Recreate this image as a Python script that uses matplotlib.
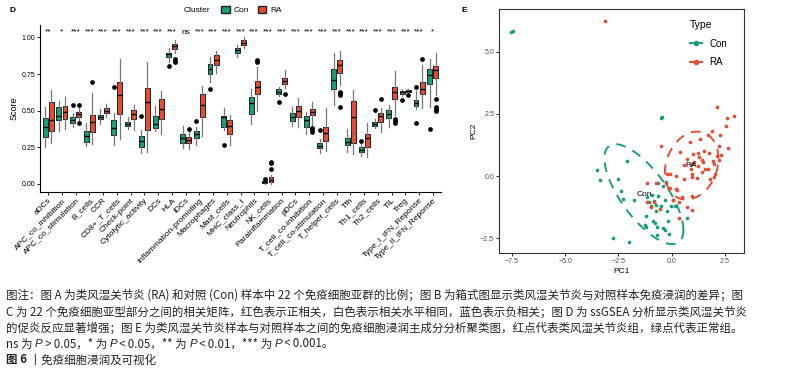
import numpy as np
import matplotlib
matplotlib.use('Agg')
import matplotlib.pyplot as plt
from matplotlib.patches import Patch
from matplotlib.lines import Line2D

plt.rcParams['font.family'] = ['Liberation Sans', 'Noto Sans CJK SC', 'DejaVu Sans']

# ---- данные панели D (ssGSEA) ----
categories = ['aDCs', 'APC_co_inhibition', 'APC_co_stimulation', 'B_cells', 'CCR',
              'CD8+_T_cells', 'Check-point', 'Cytolytic_activity', 'DCs', 'HLA', 'iDCs',
              'Inflammation-promoting', 'Macrophages', 'Mast_cells', 'MHC_class_I',
              'Neutrophils', 'NK_cells', 'Parainflammation', 'pDCs', 'T_cell_co-inhibition',
              'T_cell_co-stimulation', 'T_helper_cells', 'Tfh', 'Th1_cells', 'Th2_cells',
              'TIL', 'Treg', 'Type_I_IFN_Reponse', 'Type_II_IFN_Reponse']
signif = ['**', '*', '***', '***', '***', '***', '***', '***', '***', '***', 'ns',
          '***', '***', '***', '***', '***', '***', '***', '***', '***', '***', '***',
          '***', '***', '***', '***', '***', '***', '*']

# [нижний ус, Q1, медиана, Q3, верхний ус]
con_box = [[0.25, 0.323, 0.391, 0.448, 0.527], [0.364, 0.437, 0.464, 0.523, 0.568],
           [0.391, 0.414, 0.437, 0.455, 0.487], [0.259, 0.289, 0.327, 0.364, 0.414],
           [0.41, 0.441, 0.455, 0.471, 0.514], [0.266, 0.334, 0.38, 0.437, 0.482],
           [0.377, 0.396, 0.41, 0.425, 0.455], [0.214, 0.254, 0.291, 0.327, 0.368],
           [0.36, 0.38, 0.41, 0.464, 0.53], [0.834, 0.864, 0.887, 0.896, 0.925],
           [0.243, 0.282, 0.312, 0.341, 0.396], [0.266, 0.316, 0.341, 0.362, 0.389],
           [0.698, 0.75, 0.782, 0.816, 0.868], [0.368, 0.391, 0.455, 0.462, 0.516],
           [0.868, 0.896, 0.914, 0.93, 0.948], [0.407, 0.478, 0.55, 0.596, 0.646],
           [0.0, 0.006, 0.012, 0.02, 0.028], [0.6, 0.614, 0.63, 0.646, 0.664],
           [0.396, 0.432, 0.459, 0.482, 0.523], [0.341, 0.391, 0.437, 0.464, 0.493],
           [0.214, 0.243, 0.261, 0.282, 0.305], [0.539, 0.646, 0.709, 0.782, 0.896],
           [0.22, 0.266, 0.289, 0.312, 0.373], [0.191, 0.216, 0.232, 0.25, 0.27],
           [0.38, 0.398, 0.41, 0.425, 0.443], [0.391, 0.448, 0.478, 0.505, 0.539],
           [0.6, 0.612, 0.625, 0.634, 0.645], [0.51, 0.532, 0.55, 0.573, 0.634],
           [0.523, 0.682, 0.744, 0.782, 0.85]]
ra_box = [[0.282, 0.364, 0.437, 0.557, 0.641], [0.377, 0.441, 0.493, 0.532, 0.596],
          [0.43, 0.455, 0.475, 0.493, 0.52], [0.271, 0.357, 0.421, 0.471, 0.623],
          [0.455, 0.482, 0.5, 0.516, 0.546], [0.307, 0.478, 0.607, 0.694, 0.85],
          [0.371, 0.443, 0.478, 0.505, 0.537], [0.219, 0.368, 0.562, 0.653, 0.834],
          [0.341, 0.441, 0.512, 0.578, 0.634], [0.896, 0.921, 0.941, 0.953, 0.982],
          [0.24, 0.282, 0.3, 0.318, 0.36], [0.327, 0.459, 0.539, 0.612, 0.668],
          [0.755, 0.814, 0.846, 0.88, 0.909], [0.266, 0.341, 0.398, 0.437, 0.468],
          [0.925, 0.948, 0.964, 0.982, 1.0], [0.498, 0.612, 0.66, 0.703, 0.796],
          [0.0, 0.012, 0.027, 0.046, 0.06], [0.653, 0.68, 0.703, 0.721, 0.777],
          [0.391, 0.455, 0.5, 0.532, 0.585], [0.4, 0.47, 0.493, 0.51, 0.557],
          [0.227, 0.296, 0.35, 0.387, 0.516], [0.675, 0.759, 0.812, 0.846, 0.909],
          [0.205, 0.282, 0.455, 0.566, 0.641], [0.182, 0.254, 0.312, 0.341, 0.418],
          [0.357, 0.425, 0.464, 0.482, 0.516], [0.471, 0.578, 0.625, 0.66, 0.773],
          [0.62, 0.625, 0.633, 0.641, 0.645], [0.516, 0.614, 0.648, 0.698, 0.812],
          [0.607, 0.721, 0.778, 0.805, 0.896]]
con_out = [[], [], [0.541], [], [], [0.664], [], [0.464], [], [0.805], [], [0.432],
           [0.646], [0.266], [], [], [0.036], [0.561], [], [], [0.368], [], [], [0.293],
           [0.505], [], [0.573], [0.664, 0.418], [0.377]]
ra_out = [[], [], [0.541, 0.414], [0.694], [], [], [], [], [], [0.85, 0.84, 0.834],
          [0.375], [], [], [], [], [0.846, 0.832], [0.1, 0.145, 0.15], [0.612], [],
          [0.384, 0.368, 0.357], [], [0.63, 0.619, 0.607, 0.527], [], [], [0.58],
          [0.441, 0.43, 0.418], [0.607], [0.85], [0.58, 0.523, 0.511, 0.5]]

# ---- данные панели E (PCA) ----
con_pc1 = [-7.53, -7.45, -0.52, -0.44, -3.52, -3.38, -2.11, -2.5, -2.36, -2.29, -1.77,
           -2.77, -2.02, -1.19, -1.23, -1.19, -0.86, -0.78, -0.7, -0.67, -0.39, -0.31,
           -0.12, -0.17, 0.7, -1.18, -1.07, -0.99, -0.83, -0.74, -0.63, -0.91, -0.63,
           -0.41, -0.3, -0.02, 0.04, 0.15, -0.2, -0.74, -0.5, -0.28]
con_pc2 = [5.79, 5.83, 2.33, 2.37, 0.24, -0.16, 0.6, -0.13, -0.59, -0.93, -0.97,
           -2.49, -2.67, -1.61, -1.98, -2.04, -1.8, -1.88, -2.04, -2.38, -2.1, -2.17,
           -2.34, -1.8, -1.71, -0.83, -1.03, -1.2, -1.0, -1.17, -0.8, -0.76, -0.3,
           -0.4, -0.97, -1.2, -0.97, -1.2, -1.41, -1.41, -1.2, -0.23]
ra_pc1 = [-3.11, 2.14, 2.61, 2.9, 2.54, 1.91, 2.27, 1.68, -0.52, 0.38, 0.86, 1.33,
          2.66, 1.74, 2.11, 2.31, 2.21, 1.93, 1.49, 1.25, 1.3, 1.41, 0.96, 1.04, 0.56,
          0.92, 1.25, 1.56, 2.0, 2.03, 1.96, 1.8, 0.96, 0.96, 1.19, 0.58, 0.2, -0.2,
          -0.08, -1.18, -0.74, 0.2, 0.25, -0.08, 0.49, 0.34, 0.94, 0.71, 0.94, 0.08,
          -1.16, -0.83, -0.99, -0.57, 0.33, -0.28, 1.5, 1.7, 1.4, 2.2, 1.0, 0.7]
ra_pc2 = [6.26, 2.79, 2.35, 2.43, 2.03, 1.81, 1.67, 1.65, 1.22, 0.98, 1.36, 1.5,
          1.12, 0.94, 0.81, 0.84, 0.65, 0.6, 0.58, 0.94, 0.78, 0.66, 0.47, 0.58, 0.45,
          0.3, 0.42, 0.28, 0.5, 0.1, -0.03, -0.1, 0.1, -0.03, -0.07, -0.12, 0.0, 0.1,
          0.08, -0.27, -0.3, -0.54, -0.57, -0.5, -0.83, -1.03, -0.79, -1.24, -1.37,
          -0.97, -1.03, -1.03, -1.26, -1.33, -1.68, -0.3, 1.0, 0.3, 0.15, 1.2, 0.9, 0.7]

CON = '#1B9E77'
RA = '#E64B35'

W, H = 809, 378
fig = plt.figure(figsize=(W / 100, H / 100), dpi=100)


def fx(px):
    return px / W


def fy(py):
    return 1 - py / H


# ===== Панель D =====
axD = fig.add_axes([fx(40), fy(192), fx(441) - fx(40), fy(25) - fy(192)])
pos = np.arange(len(categories))


def make_stats(boxes, outs):
    res = []
    for b, o in zip(boxes, outs):
        res.append(dict(whislo=b[0], q1=b[1], med=b[2], q3=b[3], whishi=b[4], fliers=o))
    return res


for boxes, outs, color, shift in [(con_box, con_out, CON, -0.22), (ra_box, ra_out, RA, 0.22)]:
    axD.bxp(make_stats(boxes, outs), positions=pos + shift, widths=0.36,
            patch_artist=True, showcaps=False, manage_ticks=False,
            boxprops=dict(facecolor=color, edgecolor='#222222', linewidth=0.7),
            whiskerprops=dict(color='#777777', linewidth=0.9),
            medianprops=dict(color='black', linewidth=1.0),
            flierprops=dict(marker='o', markerfacecolor='black', markeredgecolor='black',
                            markersize=2.4))

for i, s in enumerate(signif):
    axD.text(pos[i], 1.035, s, ha='center', va='center', fontsize=6)

axD.set_xlim(-0.6, len(categories) - 0.4)
axD.set_ylim(-0.055, 1.085)
axD.set_yticks([0, 0.25, 0.5, 0.75, 1.0])
axD.set_yticklabels(['0.00', '0.25', '0.50', '0.75', '1.00'], fontsize=5)
axD.set_xticks(pos)
axD.set_xticklabels(categories, rotation=45, ha='right', rotation_mode='anchor', fontsize=6)
axD.tick_params(length=2, width=0.6, pad=1.5)
axD.set_ylabel('Score', fontsize=6.5, labelpad=2)
for sp in ['top', 'right']:
    axD.spines[sp].set_visible(False)
for sp in ['left', 'bottom']:
    axD.spines[sp].set_linewidth(0.8)

fig.text(fx(10), fy(10), 'D', fontsize=6, fontweight='bold', va='center')
fig.text(fx(184), fy(10), 'Cluster', fontsize=6, va='center')
fig.legend(handles=[Patch(facecolor=CON, edgecolor='#222222', label='Con'),
                    Patch(facecolor=RA, edgecolor='#222222', label='RA')],
           loc='center left', bbox_to_anchor=(fx(217), fy(10)), ncol=2, frameon=False,
           fontsize=6, handlelength=1.0, handleheight=0.9, handletextpad=0.5,
           columnspacing=1.0, borderpad=0)

# ===== Панель E =====
axE = fig.add_axes([fx(499), fy(253), fx(744) - fx(499), fy(9) - fy(253)])
for xs, ys, color, name in [(con_pc1, con_pc2, CON, 'Con'), (ra_pc1, ra_pc2, RA, 'RA')]:
    axE.scatter(xs, ys, s=7, color=color, linewidths=0, zorder=3)
    pts = np.column_stack([xs, ys])
    loc = pts.mean(axis=0)
    cov = np.cov(pts.T)
    radius = 1.1
    t = np.linspace(0, 2 * np.pi, 200)
    circ = np.column_stack([np.cos(t), np.sin(t)])
    ell = loc + radius * circ @ np.linalg.cholesky(cov).T
    axE.plot(ell[:, 0], ell[:, 1], color=color, lw=1.4, ls=(0, (5, 4)), zorder=2)
    axE.text(loc[0], loc[1], name, fontsize=6, ha='center', va='center', zorder=4)

axE.set_xlim(-8.1, 3.39)
axE.set_ylim(-3.1, 6.73)
axE.set_xticks([-7.5, -5.0, -2.5, 0.0, 2.5])
axE.set_yticks([-2.5, 0.0, 2.5, 5.0])
axE.tick_params(labelsize=5, labelcolor='#4D4D4D', length=2, width=0.6, pad=1.5)
axE.set_xlabel('PC1', fontsize=6, labelpad=2)
axE.set_ylabel('PC2', fontsize=6, labelpad=2)
for sp in axE.spines.values():
    sp.set_linewidth(0.8)
    sp.set_color('#333333')

fig.text(fx(462), fy(10), 'E', fontsize=6, fontweight='bold', va='center')
leg = fig.legend(handles=[Line2D([], [], color=CON, lw=1.4, marker='o', markersize=3, label='Con'),
                          Line2D([], [], color=RA, lw=1.4, marker='o', markersize=3, label='RA')],
                 title='Type', loc='upper left', bbox_to_anchor=(fx(685), fy(15)),
                 frameon=False, fontsize=7, title_fontsize=7.5, handlelength=1.2,
                 handletextpad=0.8, labelspacing=0.9, borderpad=0)
leg._legend_box.align = 'left'

# ===== Подпись =====
cap_font = ['Noto Sans CJK SC', 'DejaVu Sans']
cap_size = 8.28
cap_lines = [
    '图注：图 A 为类风湿关节炎 (RA) 和对照 (Con) 样本中 22 个免疫细胞亚群的比例；图 B 为箱式图显示类风湿关节炎与对照样本免疫浸润的差异；图',
    'C 为 22 个免疫细胞亚型部分之间的相关矩阵，红色表示正相关，白色表示相关水平相同，蓝色表示负相关；图 D 为 ssGSEA 分析显示类风湿关节炎',
    '的促炎反应显著增强；图 E 为类风湿关节炎样本与对照样本之间的免疫细胞浸润主成分分析聚类图，红点代表类风湿关节炎组，绿点代表正常组。',
]
cap_y = [295, 312, 328]
for line, yy in zip(cap_lines, cap_y):
    fig.text(fx(6), fy(yy), line, fontsize=cap_size, family=cap_font, va='center', color='#222222')

renderer = fig.canvas.get_renderer()


def runs(parts, x0, yy):
    x = x0
    for s, kw in parts:
        t = fig.text(fx(x), fy(yy), s, fontsize=cap_size, va='center', color='#222222', **kw)
        x = t.get_window_extent(renderer).x1


plain = dict(family=cap_font)
ital = dict(family=['Liberation Sans'], style='italic')
th = '\u2009'
runs([('ns 为 ', plain), ('P', ital), (th + '>' + th + '0.05，* 为 ', plain), ('P', ital),
      (th + '<' + th + '0.05，** 为 ', plain), ('P', ital), (th + '<' + th + '0.01，*** 为 ', plain),
      ('P', ital), (th + '<' + th + '0.001。', plain)], 6, 344)
runs([('图 6', dict(family=cap_font, weight='bold')), (' 丨免疫细胞浸润及可视化', plain)], 6, 360)

fig.savefig('out.png', dpi=100)
